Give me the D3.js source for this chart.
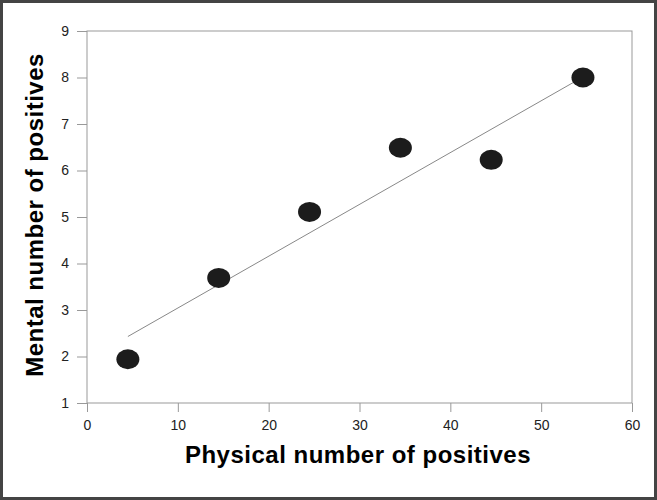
<!DOCTYPE html>
<html>
<head>
<meta charset="utf-8">
<script src="https://cdn.jsdelivr.net/npm/d3@7"></script>
<style>
	body { margin: 0; background: #fff; }
	svg { display: block; }
</style>
</head>
<body>
<script>
const physical = [4.5, 14.5, 24.5, 34.5, 44.5, 54.6];
const mental = [1.94, 3.69, 5.11, 6.49, 6.23, 8.0];
const fitX = [4.5, 54.5];
const fitY = [2.43, 8.0];
const xTicks = [0, 10, 20, 30, 40, 50, 60];
const yTicks = [1, 2, 3, 4, 5, 6, 7, 8, 9];

const W = 657, H = 500;
const plotLeft = 87, plotRight = 632, plotTop = 31, plotBottom = 403;
const FONT = "'Liberation Sans', Arial, sans-serif";

let svg = d3.select('body').append('svg')
	.attr('width', W)
	.attr('height', H)
	.attr('font-family', FONT);

svg.append('rect')
	.attr('x', 1.5)
	.attr('y', 1.5)
	.attr('width', W - 3)
	.attr('height', H - 3)
	.attr('fill', '#fff')
	.attr('stroke', '#444')
	.attr('stroke-width', 3);

let x = d3.scaleLinear().domain([0, 60]).range([plotLeft, plotRight]);
let y = d3.scaleLinear().domain([1, 9]).range([plotBottom, plotTop]);

// plot frame
svg.append('rect')
	.attr('x', plotLeft)
	.attr('y', plotTop)
	.attr('width', plotRight - plotLeft)
	.attr('height', plotBottom - plotTop)
	.attr('fill', 'none')
	.attr('stroke', '#999');

let styleAxis = g => {
	g.select('.domain').remove();
	g.attr('font-family', FONT).attr('font-size', 14);
	g.selectAll('.tick line').attr('stroke', '#999');
	g.selectAll('.tick text').attr('fill', '#222');
};

svg.append('g')
	.attr('transform', `translate(0, ${plotBottom})`)
	.call(d3.axisBottom(x).tickValues(xTicks).tickSize(9).tickSizeOuter(0).tickPadding(8))
	.call(styleAxis);

svg.append('g')
	.attr('transform', `translate(${plotLeft}, 0)`)
	.call(d3.axisLeft(y).tickValues(yTicks).tickSize(10).tickSizeOuter(0).tickPadding(8))
	.call(styleAxis);

svg.append('line')
	.attr('x1', x(fitX[0]))
	.attr('y1', y(fitY[0]))
	.attr('x2', x(fitX[1]))
	.attr('y2', y(fitY[1]))
	.attr('stroke', '#888')
	.attr('stroke-width', 1);

svg.selectAll('ellipse')
	.data(physical)
	.enter()
	.append('ellipse')
	.attr('cx', (d, i) => x(d))
	.attr('cy', (d, i) => y(mental[i]))
	.attr('rx', 11.5)
	.attr('ry', 10)
	.attr('fill', '#1c1c1c');

svg.append('text')
	.attr('x', 358)
	.attr('y', 463)
	.attr('text-anchor', 'middle')
	.attr('font-weight', 'bold')
	.attr('font-size', 24)
	.attr('letter-spacing', 0.5)
	.attr('fill', '#000')
	.text('Physical number of positives');

svg.append('text')
	.attr('transform', 'translate(43, 215) rotate(-90)')
	.attr('text-anchor', 'middle')
	.attr('font-weight', 'bold')
	.attr('font-size', 24)
	.attr('letter-spacing', 0.5)
	.attr('fill', '#000')
	.text('Mental number of positives');
</script>
</body>
</html>
